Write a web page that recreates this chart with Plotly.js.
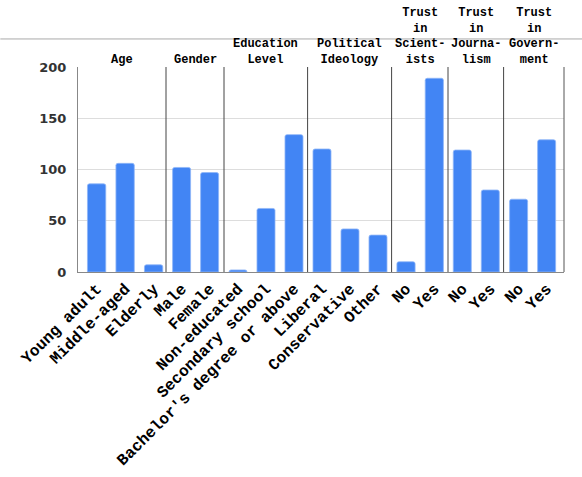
<!DOCTYPE html>
<html>
<head>
<meta charset="utf-8">
<script src="https://cdn.plot.ly/plotly-3.0.1.min.js"></script>
<style>html,body{margin:0;padding:0;background:#fff;}#chart{width:582px;height:477px;}</style>
</head>
<body>
<div id="chart"></div>
<script>
// ---- data ----
const groupHeaders = ['Age', 'Gender', 'Education<br>Level', 'Political<br>Ideology',
  'Trust<br>in<br>Scient-<br>ists', 'Trust<br>in<br>Journa-<br>lism', 'Trust<br>in<br>Govern-<br>ment'];
const ageCats = ['Young adult', 'Middle-aged', 'Elderly'];
const ageVals = [86, 106, 7];
const genderCats = ['Male', 'Female'];
const genderVals = [102, 97];
const eduCats = ['Non-educated', 'Secondary school', "Bachelor's degree or above"];
const eduVals = [2, 62, 134];
const polCats = ['Liberal', 'Conservative', 'Other'];
const polVals = [120, 42, 36];
const sciCats = ['No', 'Yes'];
const sciVals = [10, 189];
const jourCats = ['No', 'Yes'];
const jourVals = [119, 80];
const govCats = ['No', 'Yes'];
const govVals = [71, 129];
const yTicks = [0, 50, 100, 150, 200];

const groups = [
  [ageCats, ageVals], [genderCats, genderVals], [eduCats, eduVals], [polCats, polVals],
  [sciCats, sciVals], [jourCats, jourVals], [govCats, govVals]
];

// ---- layout geometry (pixels) ----
const L = 77.7, R = 563.7, W = R - L;
const edges = [77.7, 165.7, 223.7, 307.3, 391.3, 447.7, 503.3, 563.7];
const ranges = [[-0.653, 2.435], [-0.557, 1.514], [-0.5, 2.486], [-0.514, 2.486],
  [-0.509, 1.484], [-0.51, 1.475], [-0.536, 1.62]];

const tickFont = {family: 'Liberation Mono', size: 16, color: '#000', weight: 'bold'};
const headFont = {family: 'Liberation Mono', size: 12, color: '#000', weight: 'bold'};

const traces = [];
const layout = {
  width: 582, height: 477,
  margin: {l: L, r: 582 - R, t: 67.3, b: 477 - 272},
  paper_bgcolor: '#fff', plot_bgcolor: '#fff',
  showlegend: false,
  bargap: 0.357,
  annotations: [], shapes: [],
  yaxis: {
    range: [0, 200], tickvals: yTicks, ticktext: yTicks.map(String),
    showgrid: true, gridcolor: '#dddddd', gridwidth: 1,
    showline: true, linecolor: '#888', linewidth: 1,
    zeroline: false, ticks: '', ticklabelstandoff: 8,
    tickfont: {family: 'DejaVu Sans', size: 13, color: '#333', weight: 'bold'},
    fixedrange: true
  }
};

groups.forEach((g, i) => {
  const ax = i === 0 ? 'x' : 'x' + (i + 1);
  const axKey = i === 0 ? 'xaxis' : 'xaxis' + (i + 1);
  traces.push({
    type: 'bar', x: g[0], y: g[1], xaxis: ax, yaxis: 'y',
    marker: {color: '#4285f4', line: {color: '#8fb6f8', width: 0.8}, cornerradius: 2},
    hoverinfo: 'x+y'
  });
  const d0 = (edges[i] - L) / W, d1 = (edges[i + 1] - L) / W;
  layout[axKey] = {
    domain: [d0, d1], anchor: 'y', type: 'category', range: ranges[i],
    showgrid: false, zeroline: false, showline: true, linecolor: '#888', linewidth: 1,
    ticks: '', tickangle: -45, tickfont: tickFont, fixedrange: true
  };
  layout.annotations.push({
    xref: 'paper', yref: 'paper', x: (d0 + d1) / 2, y: 1, yshift: -2,
    xanchor: 'center', yanchor: 'bottom', showarrow: false, align: 'center',
    text: groupHeaders[i], font: headFont
  });
  if (i > 0) {
    layout.shapes.push({type: 'line', xref: 'paper', yref: 'paper', x0: d0, x1: d0, y0: 0, y1: 1,
      line: {color: '#444', width: 1}});
  }
});
layout.shapes.push({type: 'line', xref: 'paper', yref: 'paper', x0: 1, x1: 1, y0: 0, y1: 1,
  line: {color: '#555', width: 1}});
// thin rule across the header band
const ruleY = (272 - 39.3) / (272 - 67.3);
layout.shapes.push({type: 'line', xref: 'paper', yref: 'paper', x0: -L / W, x1: (582 - L) / W,
  y0: ruleY, y1: ruleY, line: {color: '#aaa', width: 1}});

Plotly.newPlot('chart', traces, layout, {displayModeBar: false, staticPlot: true});
</script>
</body>
</html>
